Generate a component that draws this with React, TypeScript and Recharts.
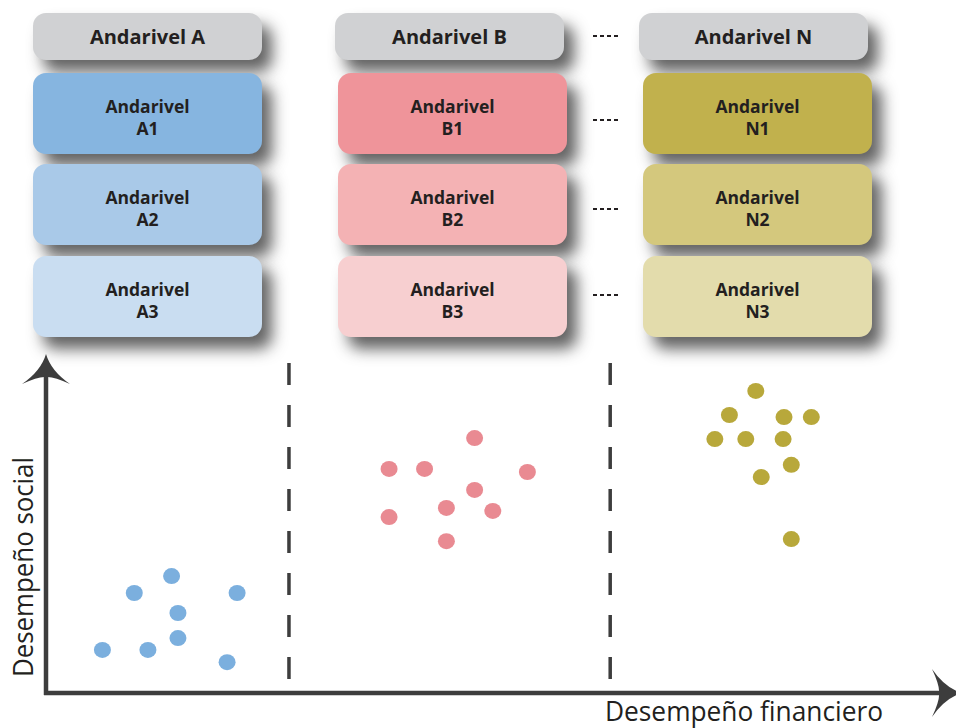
import { ScatterChart, Scatter, XAxis, YAxis, ReferenceLine } from 'recharts'

// lanes (andariveis) and their sub-levels
const laneNames = ['Andarivel A', 'Andarivel B', 'Andarivel N']
const laneKeys = ['A', 'B', 'N']
const levels = ['1', '2', '3']

// financial (x) vs social (y) performance, 0-100 scale
const pointsA = [
  { x: 13.8, y: 34.5 },
  { x: 9.7, y: 29.5 },
  { x: 21.0, y: 29.5 },
  { x: 14.5, y: 23.6 },
  { x: 14.5, y: 16.2 },
  { x: 6.2, y: 12.7 },
  { x: 11.2, y: 12.7 },
  { x: 19.9, y: 9.1 },
]
const pointsB = [
  { x: 47.1, y: 75.2 },
  { x: 37.7, y: 66.1 },
  { x: 41.6, y: 66.1 },
  { x: 52.9, y: 65.2 },
  { x: 47.1, y: 59.9 },
  { x: 44.0, y: 54.6 },
  { x: 49.1, y: 53.7 },
  { x: 37.7, y: 51.9 },
  { x: 44.0, y: 44.8 },
]
const pointsN = [
  { x: 78.0, y: 89.1 },
  { x: 75.1, y: 82.0 },
  { x: 81.1, y: 81.4 },
  { x: 84.1, y: 81.4 },
  { x: 73.5, y: 74.9 },
  { x: 76.9, y: 74.9 },
  { x: 81.0, y: 74.9 },
  { x: 81.9, y: 67.3 },
  { x: 78.6, y: 63.7 },
  { x: 81.9, y: 45.4 },
]
// lane boundaries on the financial axis
const dividers = [26.7, 62.0]

const dotColors = ['#7bafde', '#e98a92', '#b8a83b']
const boxColors = [
  ['#86b5e0', '#a9c9e8', '#c9ddf1'],
  ['#ef949a', '#f4b2b4', '#f7cfd0'],
  ['#c1b14d', '#d4c87d', '#e3dcac'],
]

const INK = '#231f20'
const AXIS = '#3d3d3d'
const headerLeft = [33, 335, 639]
const colLeft = [33, 338, 643]
const rowTop = [73, 164, 256]
const dashTop = [35, 119, 208, 294]

const shadow = '10px 12px 15px rgba(25,25,25,0.68)'

function Box({ left, top, height, bg, children, size, pad = 0 }: any) {
  return (
    <div
      style={{
        position: 'absolute',
        left,
        top,
        width: 229,
        height,
        boxSizing: 'border-box',
        paddingTop: pad,
        background: bg,
        borderRadius: 13,
        boxShadow: shadow,
        display: 'flex',
        alignItems: 'center',
        justifyContent: 'center',
        textAlign: 'center',
        fontWeight: 700,
        fontSize: size,
        lineHeight: '22px',
        color: INK,
      }}
    >
      {children}
    </div>
  )
}

function arrowHead(tx: number, ty: number, angle: number) {
  // pointing up, then rotated
  const d = `M0,0 Q-5,17 -24,30 Q-7,22 0,23 Q7,22 24,30 Q5,17 0,0 Z`
  return <path d={d} fill={AXIS} transform={`translate(${tx},${ty}) rotate(${angle})`} />
}

const yAxisShape = (p: any) => (
  <g>
    <line x1={p.x1} y1={p.y1 + 2} x2={p.x2} y2={p.y2 + 20} stroke={AXIS} strokeWidth={4.5} />
    {arrowHead(p.x2, p.y2, 0)}
    <text
      x={p.x1 - 13}
      y={p.y1 - 126}
      transform={`rotate(-90, ${p.x1 - 13}, ${p.y1 - 126})`}
      textAnchor="middle"
      fontSize={28}
      fill={INK}
      textLength={220}
      lengthAdjust="spacingAndGlyphs"
      fontFamily='"Open Sans", sans-serif'
    >
      Desempeño social
    </text>
  </g>
)

const xAxisShape = (p: any) => (
  <g>
    <line x1={p.x1 - 2} y1={p.y1} x2={p.x2 - 10} y2={p.y2} stroke={AXIS} strokeWidth={4.5} />
    {arrowHead(p.x2 + 6, p.y2, 90)}
    <text
      x={p.x2 - 212}
      y={p.y1 + 28}
      textAnchor="middle"
      fontSize={28}
      fill={INK}
      textLength={278}
      lengthAdjust="spacingAndGlyphs"
      fontFamily='"Open Sans", sans-serif'
    >
      Desempeño financiero
    </text>
  </g>
)

const dot = (p: any) => <ellipse cx={p.cx} cy={p.cy} rx={8.5} ry={8} fill={p.fill} />

export default function App() {
  const series = [pointsA, pointsB, pointsN]
  return (
    <div
      style={{
        position: 'relative',
        width: 956,
        height: 728,
        overflow: 'hidden',
        background: '#fff',
        fontFamily: '"Open Sans", sans-serif',
      }}
    >
      <style>{'body{margin:0}'}</style>

      {laneNames.map((name, i) => (
        <Box key={name} left={headerLeft[i]} top={13} height={47} bg="#d0d1d3" size={20}>
          {name}
        </Box>
      ))}
      {laneKeys.map((k, i) =>
        levels.map((lv, j) => (
          <Box key={k + lv} left={colLeft[i]} top={rowTop[j]} height={81} bg={boxColors[i][j]} size={17.5} pad={6}>
            <span>
              Andarivel
              <br />
              {k + lv}
            </span>
          </Box>
        ))
      )}
      {dashTop.map((t) => (
        <svg key={t} width={28} height={4} style={{ position: 'absolute', left: 592, top: t - 1 }}>
          <line x1={1} y1={2} x2={27} y2={2} stroke={INK} strokeWidth={2} strokeDasharray="4 3" />
        </svg>
      ))}

      <div style={{ position: 'absolute', left: 0, top: 0 }}>
        <ScatterChart width={956} height={728} margin={{ top: 354, right: 0, bottom: 35, left: 46 }}>
          <XAxis type="number" dataKey="x" domain={[0, 100]} hide />
          <YAxis type="number" dataKey="y" domain={[0, 100]} hide />
          {dividers.map((d) => (
            <ReferenceLine
              key={d}
              segment={[
                { x: d, y: 97.35 },
                { x: d, y: 4.13 },
              ]}
              stroke={AXIS}
              strokeWidth={3.5}
              strokeDasharray="22 20"
            />
          ))}
          <ReferenceLine
            segment={[
              { x: 0, y: 0 },
              { x: 0, y: 100 },
            ]}
            shape={yAxisShape}
          />
          <ReferenceLine
            segment={[
              { x: 0, y: 0 },
              { x: 100, y: 0 },
            ]}
            shape={xAxisShape}
          />
          {series.map((s, i) => (
            <Scatter key={i} data={s} fill={dotColors[i]} shape={dot} isAnimationActive={false} />
          ))}
        </ScatterChart>
      </div>
    </div>
  )
}
